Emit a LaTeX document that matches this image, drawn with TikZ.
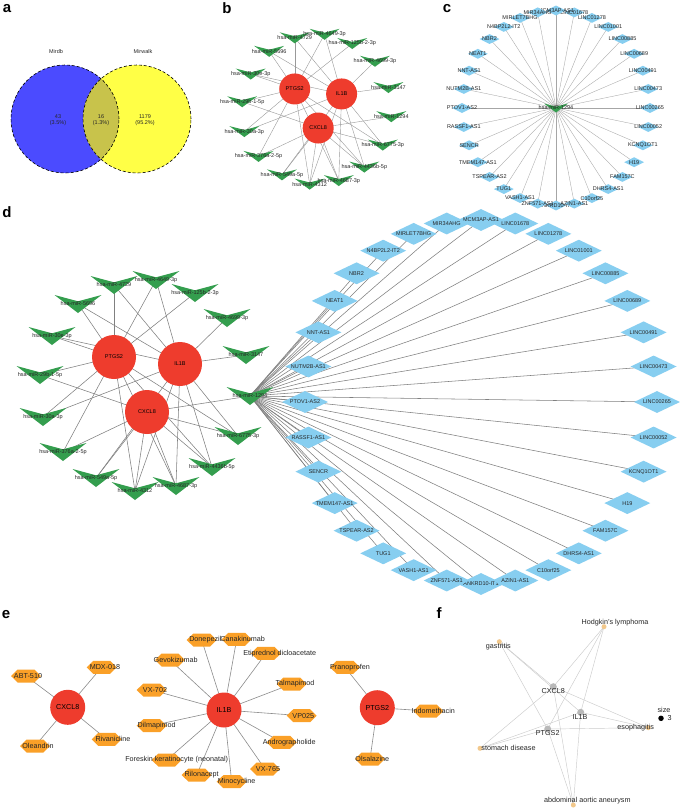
\documentclass[tikz,border=0pt]{standalone}
\usepackage{fontspec}
\setmainfont{Liberation Sans}
\usetikzlibrary{shapes.geometric,calc}

\definecolor{hubred}{RGB}{238,60,45}
\definecolor{mirgreen}{RGB}{52,158,78}
\definecolor{lncblue}{RGB}{135,206,240}
\definecolor{drugorange}{RGB}{250,160,40}
\definecolor{venblue}{RGB}{75,75,255}
\definecolor{venyellow}{RGB}{255,255,70}
\definecolor{venolive}{RGB}{200,195,75}
\definecolor{disdot}{RGB}{242,200,140}
\definecolor{genedot}{RGB}{185,185,185}

\pgfdeclarelayer{bg}
\pgfdeclarelayer{edges}
\pgfsetlayers{bg,edges,main}

\tikzset{
  panel/.style={font=\fontsize{15}{15}\selectfont\bfseries, inner sep=0pt},
  lbl/.style={font=\fontsize{5.5}{6.5}\selectfont, inner sep=0pt, text=black!85},
  elbl/.style={font=\fontsize{7.2}{8.6}\selectfont, inner sep=0pt, text=black!85},
  hub/.style={circle, fill=hubred, minimum size=\hubd, inner sep=0pt},
  mir/.style={rectangle, minimum width=\mirw, minimum height=\mirh, inner sep=0pt,
    path picture={\fill[mirgreen] (path picture bounding box.north west)
      -- (path picture bounding box.south)
      -- (path picture bounding box.north east)
      -- ($(path picture bounding box.north)!0.35!(path picture bounding box.south)$) -- cycle;}},
  lnc/.style={diamond, fill=lncblue, minimum width=\lncw, minimum height=\lnch, inner sep=0pt},
  drug/.style={rectangle, minimum width=30pt, minimum height=13pt, inner sep=0pt,
    path picture={\fill[drugorange] (path picture bounding box.west)
      -- ($(path picture bounding box.north west)!0.22!(path picture bounding box.north east)$)
      -- ($(path picture bounding box.north west)!0.78!(path picture bounding box.north east)$)
      -- (path picture bounding box.east)
      -- ($(path picture bounding box.south west)!0.78!(path picture bounding box.south east)$)
      -- ($(path picture bounding box.south west)!0.22!(path picture bounding box.south east)$) -- cycle;}},
  gdot/.style={circle, fill=genedot, minimum size=7pt, inner sep=0pt},
  ddot/.style={circle, fill=disdot, minimum size=5pt, inner sep=0pt},
  link/.style={draw=black!45, line width=0.5pt},
  flink/.style={draw=black!20, line width=0.45pt},
}

% miRNA--gene network, drawn in d and (scaled) in b
\newcommand{\mirnet}{%
  \foreach \k/\x/\y in {PTGS2/114/357, IL1B/180/364, CXCL8/147/412}
    \node[hub, label={[name=\k-t, lbl, text=black]center:\k}] (\k) at (\x,\y) {};
  \foreach \k/\x/\y/\t in {m4729/114/285/hsa-miR-4729, m4649/156/280/hsa-miR-4649-3p,
      m125b/195/293/hsa-miR-125b-2-3p, m5696/78/304/hsa-miR-5696,
      m4699/227/318/hsa-miR-4699-3p, m30e/52/336/hsa-miR-30e-3p,
      m3147/246/355/hsa-miR-3147, m29b/40/375/hsa-miR-29b-1-5p,
      m1294/250/396/hsa-miR-1294, m30a/43/417/hsa-miR-30a-3p,
      m6775/238/436/hsa-miR-6775-3p, m376a/63/452/hsa-miR-376a-2-5p,
      m4436/212/467/hsa-miR-4436b-5p, m549a/96/478/hsa-miR-549a-5p,
      m4312/135/491/hsa-miR-4312, m4687/176/486/hsa-miR-4687-3p}
    \node[mir, label={[name=\k-t, lbl]center:\t}] (\k) at (\x,\y) {};
  \begin{pgfonlayer}{edges}
    \foreach \a/\b in {PTGS2/m4729, PTGS2/m4649, PTGS2/m125b, PTGS2/m5696, PTGS2/m30e,
        PTGS2/m29b, PTGS2/m30a, PTGS2/m376a, PTGS2/m6775, PTGS2/m4436, PTGS2/m4687, PTGS2/m4312,
        IL1B/m4729, IL1B/m4649, IL1B/m5696, IL1B/m30e, IL1B/m4699, IL1B/m3147, IL1B/m30a,
        IL1B/m6775, IL1B/m4436, IL1B/m4687, IL1B/m4312, IL1B/m549a,
        CXCL8/m29b, CXCL8/m1294, CXCL8/m376a, CXCL8/m549a, CXCL8/m4312, CXCL8/m4687,
        CXCL8/m4436, CXCL8/m6775}
      \draw[link] (\a.center) -- (\b.center);
  \end{pgfonlayer}%
}

% lncRNA ring round hsa-miR-1294: centre x, centre y, x radius, y radius
\newcommand{\lncring}[4]{%
  \foreach \t [count=\i from 0] in {ANKRD10-IT1, AZIN1-AS1, C10orf25, DHRS4-AS1, FAM157C,
      H19, KCNQ1OT1, LINC00052, LINC00265, LINC00473, LINC00491, LINC00689, LINC00885,
      LINC01001, LINC01278, LINC01678, MCM3AP-AS1, MIR34AHG, MIRLET7BHG, N4BP2L2-IT2,
      NBR2, NEAT1, NNT-AS1, NUTM2B-AS1, PTOV1-AS2, RASSF1-AS1, SENCR, TMEM147-AS1,
      TSPEAR-AS2, TUG1, VASH1-AS1, ZNF571-AS1}{%
    \node[lnc, label={[name=l\i-t, lbl]center:\t}] (l\i)
      at ({#1+#3*cos((\i-8)*11.25)}, {#2-#4*sin((\i-8)*11.25)}) {};
    \begin{pgfonlayer}{edges}
      \draw[link] (m1294.center) -- (l\i.center);
    \end{pgfonlayer}
  }%
}

\begin{document}
\begin{tikzpicture}[x=1pt, y=-1pt]
\begin{pgfonlayer}{bg}
  \fill[white] (0,0) rectangle (685,808);
\end{pgfonlayer}
\useasboundingbox (0,0) rectangle (685,808);

% a: Venn diagram
\node[panel] (la) at (7,9) {a};
\fill[venblue] (65,119) circle[radius=54pt];
\fill[venyellow] (137,119) circle[radius=54pt];
\begin{scope}
  \clip (65,119) circle[radius=54pt];
  \fill[venolive] (137,119) circle[radius=54pt];
\end{scope}
\draw[dash pattern=on 3pt off 2pt, line width=0.6pt] (65,119) circle[radius=54pt];
\draw[dash pattern=on 3pt off 2pt, line width=0.6pt] (137,119) circle[radius=54pt];
\node[lbl] (mirdb) at (56,52) {Mirdb};
\node[lbl] (mirwalk) at (143,52) {Mirwalk};
\node[lbl, align=center] (onlydb) at (58,120) {43\\(3.5\%)};
\node[lbl, align=center] (both) at (101,120) {16\\(1.3\%)};
\node[lbl, align=center] (onlywalk) at (145,120) {1179\\(95.2\%)};

% b: miRNA--gene network
\node[panel] (lb) at (227,8) {b};
\begin{scope}[shift={(213.8,-164.5)}, scale=0.71, name prefix=b-,
    link/.style={draw=black!40, line width=0.4pt}]
  \def\hubd{31pt}\def\mirw{30pt}\def\mirh{11pt}
  \mirnet
\end{scope}

% c: hsa-miR-1294 and its lncRNAs
\node[panel] (lc) at (447,9) {c};
\begin{scope}[name prefix=c-, link/.style={draw=black!35, line width=0.35pt}]
  \def\mirw{24pt}\def\mirh{9pt}\def\lncw{20pt}\def\lnch{10pt}
  \node[mir, label={[name=m1294-t, lbl]center:hsa-miR-1294}] (m1294) at (556,108) {};
  \lncring{556}{108}{94}{97.5}
\end{scope}

% d: merged network
\node[panel] (ld) at (7,212) {d};
\begin{scope}[name prefix=d-, link/.style={draw=black!50, line width=0.55pt}]
  \def\hubd{44pt}\def\mirw{47pt}\def\mirh{18pt}\def\lncw{46pt}\def\lnch{22pt}
  \mirnet
  \lncring{481}{402}{176}{182}
\end{scope}

% e: drugs
\node[panel] (le) at (6,615) {e};
\begin{scope}[link/.style={draw=black!45, line width=0.6pt}]
  \def\hubd{35pt}
  \foreach \k/\x/\y in {CXCL8/67.7/707.3, IL1B/224/710, PTGS2/377.3/707.7}
    \node[hub, label={[name=e-\k-t, elbl, text=black]center:\k}] (e-\k) at (\x,\y) {};
  \foreach \h/\k/\x/\y/\dx/\t in {CXCL8/abt/26/676/2/ABT-510, CXCL8/mdx/101.7/667.3/3.3/MDX-018,
      CXCL8/olea/35/746/3/Oleandrin, CXCL8/riva/106.7/739.3/6.3/Rivanicline,
      IL1B/done/201.7/640/3.6/Donepezil, IL1B/cana/236.7/639.3/6/Canakinumab,
      IL1B/etip/266/653.3/13.7/Etiprednol dicloacetate, IL1B/gevo/170/660/5.7/Gevokizumab,
      IL1B/talm/291.7/684/3.3/Talmapimod, IL1B/vxa/151.7/690/3.3/VX-702,
      IL1B/vp/301.7/715.7/1.6/VP025, IL1B/dilm/151.7/725.7/5/Dilmapimod,
      IL1B/andr/281.7/742.3/7.6/Andrographolide,
      IL1B/fore/166.7/760/10/Foreskin keratinocyte (neonatal),
      IL1B/vxb/265/769/3/VX-765, IL1B/rilo/196.7/775/5/Rilonacept,
      IL1B/mino/231.7/781.7/5/Minocycline,
      PTGS2/pran/345/667.3/5/Pranoprofen, PTGS2/indo/428.3/711/5/Indomethacin,
      PTGS2/olsa/370/759/2.3/Olsalazine}{
    \node[drug, label={[name=e-\k-t, elbl, xshift=\dx pt]center:\t}] (e-\k) at (\x,\y) {};
    \begin{pgfonlayer}{edges}
      \draw[link] (e-\h.center) -- (e-\k.center);
    \end{pgfonlayer}
  }
\end{scope}

% f: gene--disease network
\node[panel] (lf) at (439,613) {f};
\foreach \k/\x/\y in {CXCL8/553.3/686.7, IL1B/580.7/712.3, PTGS2/547.7/729}
  \node[gdot] (f-\k) at (\x,\y) {};
\foreach \k/\x/\y in {hodg/604/626.7, gast/499.3/641.7, esop/648.3/727.7,
    stom/480/748.3, abdo/573.3/805}
  \node[ddot] (f-\k) at (\x,\y) {};
\begin{pgfonlayer}{edges}
  \foreach \g in {CXCL8, IL1B, PTGS2}
    \foreach \d in {hodg, gast, esop, stom, abdo}
      \draw[flink] (f-\g.center) -- (f-\d.center);
\end{pgfonlayer}
\node[elbl] (f-CXCL8-t) at (553.3,691) {CXCL8};
\node[elbl] (f-IL1B-t) at (580,716.7) {IL1B};
\node[elbl] (f-PTGS2-t) at (547.7,733.3) {PTGS2};
\node[elbl] (f-hodg-t) at (615,622.3) {Hodgkin's lymphoma};
\node[elbl] (f-gast-t) at (498.3,646.5) {gastritis};
\node[elbl] (f-esop-t) at (635.7,727.7) {esophagitis};
\node[elbl] (f-stom-t) at (508.5,748.3) {stomach disease};
\node[elbl] (f-abdo-t) at (587.3,800.7) {abdominal aortic aneurysm};
\node[elbl] (f-size) at (664,710) {size};
\node[circle, fill=black, minimum size=5.5pt, inner sep=0pt] (f-key) at (661,718.3) {};
\node[elbl] (f-three) at (669.5,718.3) {3};
\end{tikzpicture}
\end{document}
